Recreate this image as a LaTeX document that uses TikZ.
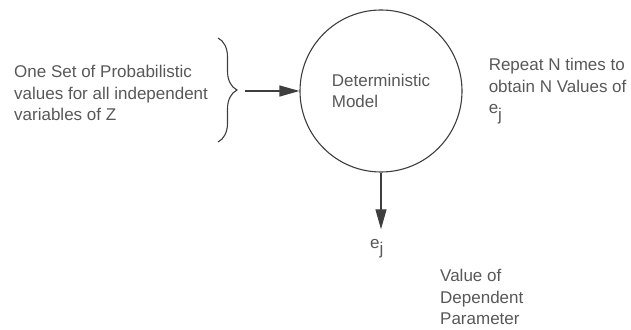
\documentclass[tikz,border=0pt]{standalone}
\usepackage{fontspec}
\setmainfont{Liberation Sans}
\usetikzlibrary{arrows.meta,positioning,decorations.pathreplacing,calc}
\definecolor{txtgray}{RGB}{88,88,88}
\definecolor{linegray}{RGB}{62,62,62}

\begin{document}
\begin{tikzpicture}
[x=1pt,y=1pt,
edge/.style={-{Triangle[length=20pt,width=11pt]}, line width=1.3pt, draw=linegray, fill=linegray},
txt/.style={text=txtgray, font=\fontsize{17}{21.5}\selectfont, align=left, inner sep=0pt},
modelnode/.style={circle, draw=linegray, line width=1.1pt, minimum size=162pt, inner sep=0pt},
bracket/.style={draw=linegray, line width=1.1pt, decorate, decoration={brace, amplitude=19pt}}]
\useasboundingbox (0,0) rectangle (631,329);
\node (model) [modelnode,txt,draw=linegray] at (381,238) {Deterministic\\Model};
%%
\node (inputs) [txt, anchor=west] at (14,236) {One Set of Probabilistic\\values for all independent\\variables of Z};
\coordinate (bracetop) at (218,291);
\coordinate (bracebot) at (218,187);
\coordinate (bracetip) at (245,238);
\draw[bracket] (bracetop) -- (bracebot);
%%
\draw[edge] (bracetip) -- (model.west);
%%
\node (repeat) [txt, right=26pt of model] {Repeat N times to\\obtain N Values of\\e$_{\textrm{j}}$};
%%
\node (ej) [txt] at (377,80) {e$_{\textrm{j}}$};
\coordinate (ejtop) at ($(ej.north)+(0,10)$);
\draw[edge] (model.south) -- (model.south |- ejtop);
%%
\node (value) [txt, anchor=west] at (440,32) {Value of\\Dependent\\Parameter};
%%
\end{tikzpicture}
\end{document}
